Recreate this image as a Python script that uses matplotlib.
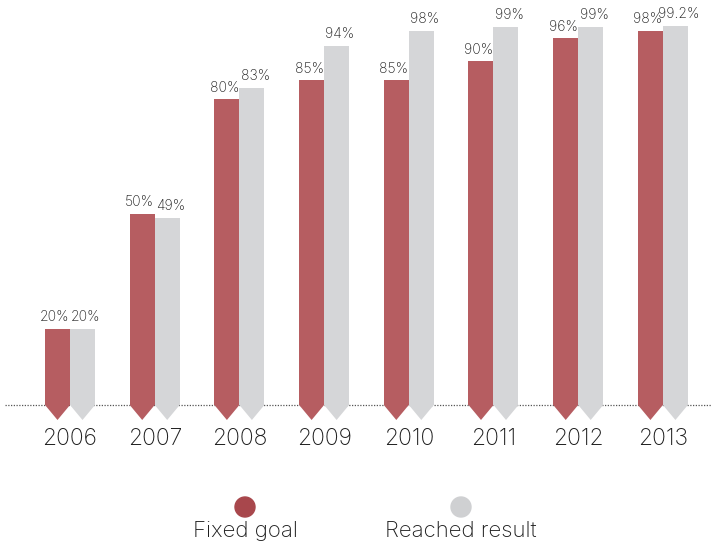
import numpy as np
import matplotlib.pyplot as plt
from matplotlib.patches import Polygon, Ellipse

years = ['2006', '2007', '2008', '2009', '2010', '2011', '2012', '2013']
fixed_goal = [20, 50, 80, 85, 85, 90, 96, 98]
reached = [20, 49, 83, 94, 98, 99, 99, 99.2]
fixed_labels = ['20%', '50%', '80%', '85%', '85%', '90%', '96%', '98%']
reached_labels = ['20%', '49%', '83%', '94%', '98%', '99%', '99%', '99.2%']

red = '#b65d61'
grey = '#d5d6d8'
text_col = '#1e1e1e'

plt.rcParams['font.family'] = ['Inter', 'DejaVu Sans']
plt.rcParams['font.weight'] = 'light'

fig = plt.figure(figsize=(7.11, 5.45), dpi=100)
ax = fig.add_axes([0, 0, 1, 1])
ax.axis('off')

px_per_pct = 3.82
px_per_group = 84.7
ax.set_ylim(-140 / px_per_pct, (545 - 140) / px_per_pct)
ax.set_xlim(-70 / px_per_group, (711 - 70) / px_per_group)

x = np.arange(len(years))
w = 25 / px_per_group
tip = 15 / px_per_pct

ax.bar(x - w / 2, fixed_goal, w, color=red, linewidth=0)
ax.bar(x + w / 2, reached, w, color=grey, linewidth=0)

# arrow-shaped feet under each bar
for xi in x:
    for cx, col in ((xi - w / 2, red), (xi + w / 2, grey)):
        ax.add_patch(Polygon([[cx - w / 2, 0.01], [cx + w / 2, 0.01], [cx, -tip]],
                             closed=True, color=col, linewidth=0))

ax.axhline(0, xmin=0.007, color='#555555', linestyle=(0, (1, 1.2)), linewidth=0.9, zorder=0)

for xi, v, lab in zip(x, fixed_goal, fixed_labels):
    ax.text(xi - w / 2 - 0.03, v + 1.2, lab, ha='center', va='bottom', fontsize=10,
            color=text_col)
for xi, v, lab in zip(x, reached, reached_labels):
    ax.text(xi + w / 2 + 0.04, v + 1.2, lab, ha='center', va='bottom', fontsize=10,
            color=text_col)

for xi, yr in zip(x, years):
    ax.text(xi, -9, yr, ha='center', va='center', fontsize=16.5, color=text_col)

# legend
for cx, col in ((245, '#a8474c'), (461, '#cfd0d2')):
    fig.patches.append(Ellipse((cx / 711, 1 - 507 / 545), 20 / 711, 20 / 545,
                               transform=fig.transFigure, color=col, figure=fig))
fig.text(245 / 711, 1 - 531 / 545, 'Fixed goal', ha='center', va='center', fontsize=16,
         color=text_col)
fig.text(461 / 711, 1 - 531 / 545, 'Reached result', ha='center', va='center', fontsize=16,
         color=text_col)

fig.savefig('out.png', dpi=100)
